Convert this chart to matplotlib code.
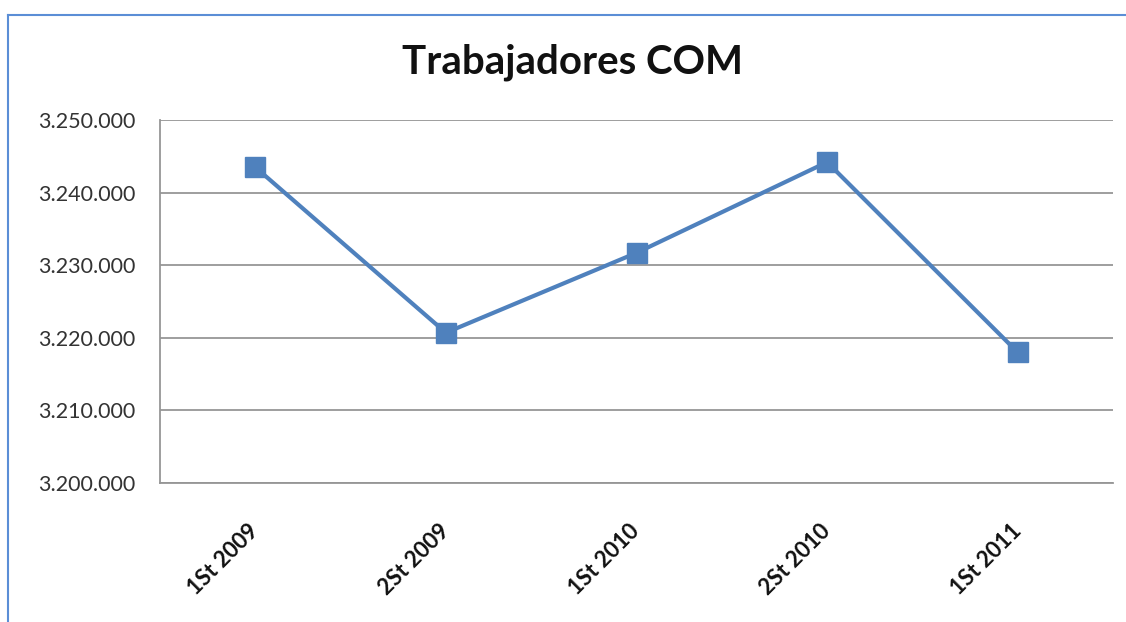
import matplotlib
matplotlib.use("Agg")
import matplotlib.pyplot as plt
from matplotlib.lines import Line2D
from matplotlib.ticker import FuncFormatter

categories = ['1St 2009', '2St 2009', '1St 2010', '2St 2010', '1St 2011']
trabajadores = [3243500, 3220700, 3231700, 3244200, 3218000]
y_ticks = [3200000, 3210000, 3220000, 3230000, 3240000, 3250000]

plt.rcParams['font.family'] = ['Lato', 'DejaVu Sans']

fig = plt.figure(figsize=(11.26, 6.22), dpi=100)
ax = fig.add_axes([160/1126, 1 - 483/622, 953/1126, 363/622])

x = list(range(len(categories)))
ax.plot(x, trabajadores, color='#4F81BD', linewidth=3, marker='s',
        markersize=15, markerfacecolor='#4F81BD', markeredgecolor='#4F81BD',
        zorder=3, clip_on=False)

ax.set_xlim(-0.5, len(categories) - 0.5)
ax.set_ylim(3200000, 3250000)
ax.set_yticks(y_ticks)
ax.yaxis.set_major_formatter(FuncFormatter(lambda v, p: '{:,.0f}'.format(v).replace(',', '.')))
ax.grid(axis='y', color='#969696', linewidth=1.3)
ax.set_axisbelow(True)

ax.set_xticks(x)
ax.set_xticklabels(categories, rotation=45, ha='right', va='center',
                   rotation_mode='anchor', fontsize=16, fontweight='bold', color='#111111')
ax.tick_params(axis='x', length=0, pad=32)
ax.tick_params(axis='y', length=0, pad=18, labelsize=15.5, labelcolor='#333333')

for s in ['top', 'right']:
    ax.spines[s].set_visible(False)
for s in ['left', 'bottom']:
    ax.spines[s].set_color('#969696')
    ax.spines[s].set_linewidth(1.3)

fig.text(573/1126, 1 - 62/622, 'Trabajadores COM', ha='center', va='center',
         fontsize=29, fontweight='bold', color='#111111')

# outer chart border (top and left visible)
fig.add_artist(Line2D([8/1126, 1.0], [1 - 15/622, 1 - 15/622], transform=fig.transFigure,
                      color='#5B8ED6', linewidth=1.5))
fig.add_artist(Line2D([8/1126, 8/1126], [0.0, 1 - 15/622], transform=fig.transFigure,
                      color='#5B8ED6', linewidth=1.5))

fig.savefig('out.png', dpi=100)
